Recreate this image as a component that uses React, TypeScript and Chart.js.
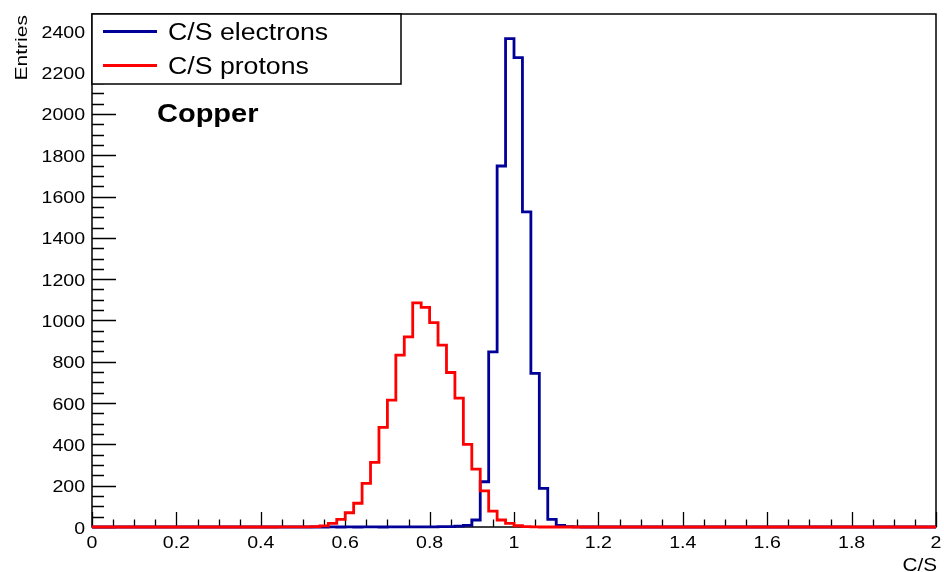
import React, { useEffect, useRef } from 'react';
import { Chart, registerables } from 'chart.js';

Chart.register(...registerables);

// ---- Data -------------------------------------------------------------
const X_MIN = 0;
const X_MAX = 2;
const BIN_WIDTH = 0.02; // 100 bins between 0 and 2

// entries per bin (bin i covers [i*0.02, (i+1)*0.02))
const electrons = [
  0, 0, 0, 0, 0, 0, 0, 0, 0, 0, // 0.00 - 0.18
  0, 0, 0, 0, 0, 0, 0, 0, 0, 0, // 0.20 - 0.38
  0, 0, 0, 0, 0, 0, 0, 0, 1, 0, // 0.40 - 0.58
  1, 0, 1, 1, 0, 1, 1, 1, 1, 1, // 0.60 - 0.78
  1, 2, 2, 4, 8, 34, 219, 848, 1748, 2365, // 0.80 - 0.98
  2273, 1526, 744, 187, 37, 8, 2, 1, 0, 0, // 1.00 - 1.18
  0, 0, 0, 0, 0, 0, 0, 0, 0, 0, // 1.20 - 1.38
  0, 0, 0, 0, 0, 0, 0, 0, 0, 0, // 1.40 - 1.58
  0, 0, 0, 0, 0, 0, 0, 0, 0, 0, // 1.60 - 1.78
  0, 0, 0, 0, 0, 0, 0, 0, 0, 0, // 1.80 - 1.98
];

const protons = [
  0, 0, 0, 0, 0, 0, 0, 0, 0, 0, // 0.00 - 0.18
  0, 0, 0, 0, 0, 0, 0, 0, 0, 0, // 0.20 - 0.38
  0, 0, 1, 1, 1, 1, 2, 5, 18, 37, // 0.40 - 0.58
  69, 115, 211, 313, 482, 614, 832, 921, 1085, 1063, // 0.60 - 0.78
  990, 881, 748, 624, 400, 280, 175, 77, 34, 18, // 0.80 - 0.98
  6, 2, 1, 0, 0, 0, 0, 0, 0, 0, // 1.00 - 1.18
  0, 0, 0, 0, 0, 0, 0, 0, 0, 0, // 1.20 - 1.38
  0, 0, 0, 0, 0, 0, 0, 0, 0, 0, // 1.40 - 1.58
  0, 0, 0, 0, 0, 0, 0, 0, 0, 0, // 1.60 - 1.78
  0, 0, 0, 0, 0, 0, 0, 0, 0, 0, // 1.80 - 1.98
];

const SERIES_LABELS = ['C/S electrons', 'C/S protons'];
const SERIES_COLORS = ['#000099', '#ff0000'];
const ANNOTATION = 'Copper';
const X_TITLE = 'C/S';
const Y_TITLE = 'Entries';

const Y_MAX = 2484;
const X_TICKS = [0, 0.2, 0.4, 0.6, 0.8, 1, 1.2, 1.4, 1.6, 1.8, 2];
const X_TICK_LABELS = ['0', '0.2', '0.4', '0.6', '0.8', '1', '1.2', '1.4', '1.6', '1.8', '2'];
const X_MINOR_STEP = 0.05;
const Y_TICKS = [0, 200, 400, 600, 800, 1000, 1200, 1400, 1600, 1800, 2000, 2200, 2400];
const Y_TICK_LABELS = ['0', '200', '400', '600', '800', '1000', '1200', '1400', '1600', '1800', '2000', '2200', '2400'];
const Y_MINOR_STEP = 50;

// ---- Helpers ----------------------------------------------------------
const FONT = '"Liberation Sans", Arial, Helvetica, sans-serif';
const SX = 1.15;

function toSteps(counts: number[]) {
  const pts = counts.map((v, i) => ({ x: X_MIN + i * BIN_WIDTH, y: v }));
  pts.push({ x: X_MIN + counts.length * BIN_WIDTH, y: counts[counts.length - 1] });
  return pts;
}

function drawText(
  ctx: CanvasRenderingContext2D,
  text: string,
  x: number,
  y: number,
  font: string,
  align: 'left' | 'right' | 'center',
  sx: number,
  rotate = 0
) {
  ctx.save();
  ctx.font = font;
  ctx.fillStyle = '#000';
  ctx.textBaseline = 'alphabetic';
  ctx.textAlign = 'left';
  const w = ctx.measureText(text).width * sx;
  ctx.translate(x, y);
  if (rotate) ctx.rotate(rotate);
  let start = 0;
  if (align === 'right') start = -w;
  else if (align === 'center') start = -w / 2;
  ctx.translate(start, 0);
  ctx.scale(sx, 1);
  ctx.fillText(text, 0, 0);
  ctx.restore();
}

const rootStyle = {
  id: 'rootStyle',
  beforeDatasetsDraw(chart: any) {
    const { ctx, chartArea: a, scales } = chart;
    const xs = scales.x;
    const ys = scales.y;
    ctx.save();
    // frame
    ctx.strokeStyle = '#000';
    ctx.lineWidth = 1.5;
    ctx.strokeRect(a.left, a.top, a.right - a.left, a.bottom - a.top);
    // ticks
    ctx.lineWidth = 1.3;
    ctx.beginPath();
    for (let k = 0; k * Y_MINOR_STEP <= Y_MAX; k++) {
      const v = k * Y_MINOR_STEP;
      const major = Y_TICKS.indexOf(v) >= 0;
      const py = Math.round(ys.getPixelForValue(v)) + 0.5;
      ctx.moveTo(a.left, py);
      ctx.lineTo(a.left + (major ? 24 : 12), py);
    }
    for (let k = 0; k * X_MINOR_STEP <= X_MAX + 1e-9; k++) {
      const v = k * X_MINOR_STEP;
      const major = X_TICKS.some((t) => Math.abs(t - v) < 1e-9);
      const px = Math.round(xs.getPixelForValue(v)) + 0.5;
      ctx.moveTo(px, a.bottom);
      ctx.lineTo(px, a.bottom - (major ? 15 : 7.5));
    }
    ctx.stroke();
    ctx.restore();

    // tick labels
    const tickFont = `17px ${FONT}`;
    Y_TICKS.forEach((v, i) => {
      drawText(ctx, Y_TICK_LABELS[i], a.left - 7, ys.getPixelForValue(v) + 6.5, tickFont, 'right', SX);
    });
    X_TICKS.forEach((v, i) => {
      drawText(ctx, X_TICK_LABELS[i], xs.getPixelForValue(v), a.bottom + 21, tickFont, 'center', SX);
    });
    // axis titles
    drawText(ctx, X_TITLE, a.right + 1, a.bottom + 43.5, `18px ${FONT}`, 'right', SX);
    drawText(ctx, Y_TITLE, 27, a.top + 1, `17px ${FONT}`, 'right', 1.24, -Math.PI / 2);
  },
  afterDraw(chart: any) {
    const { ctx, chartArea: a } = chart;
    const datasets = chart.data.datasets;
    // legend box
    ctx.save();
    const bx = a.left;
    const by = a.top;
    const bw = 401 - a.left;
    const bh = 84 - a.top;
    ctx.fillStyle = '#fff';
    ctx.fillRect(bx, by, bw, bh);
    ctx.strokeStyle = '#000';
    ctx.lineWidth = 1.5;
    ctx.strokeRect(bx, by, bw, bh);
    const rows = [31.5, 65.5];
    datasets.forEach((ds: any, i: number) => {
      ctx.strokeStyle = ds.borderColor;
      ctx.lineWidth = 3;
      ctx.beginPath();
      ctx.moveTo(103, rows[i]);
      ctx.lineTo(157, rows[i]);
      ctx.stroke();
      drawText(ctx, ds.label, 168, rows[i] + 8, `23px ${FONT}`, 'left', 1.16);
    });
    ctx.restore();
    // annotation
    drawText(ctx, ANNOTATION, 157, 121.5, `bold 25px ${FONT}`, 'left', 1.16);
  },
};

export default function App() {
  const canvasRef = useRef<HTMLCanvasElement | null>(null);

  useEffect(() => {
    const canvas = canvasRef.current;
    if (!canvas) return;
    const chart = new Chart(canvas, {
      type: 'line',
      data: {
        datasets: [
          {
            label: SERIES_LABELS[0],
            data: toSteps(electrons),
            borderColor: SERIES_COLORS[0],
            borderWidth: 2.8,
            stepped: 'before',
            pointRadius: 0,
            fill: false,
            order: 1,
            clip: false,
            borderJoinStyle: 'miter',
          } as any,
          {
            label: SERIES_LABELS[1],
            data: toSteps(protons),
            borderColor: SERIES_COLORS[1],
            borderWidth: 2.8,
            stepped: 'before',
            pointRadius: 0,
            fill: false,
            order: 0,
            clip: false,
            borderJoinStyle: 'miter',
          } as any,
        ],
      },
      options: {
        animation: false,
        responsive: false,
        devicePixelRatio: 1,
        events: [],
        layout: { padding: { top: 14, right: 8, left: 0, bottom: 0 } },
        plugins: {
          legend: { display: false },
          tooltip: { enabled: false },
          title: { display: false },
        },
        scales: {
          x: {
            type: 'linear',
            min: X_MIN,
            max: X_MAX,
            ticks: { display: false },
            grid: { display: false },
            border: { display: false },
            afterFit: (s: any) => {
              s.height = 45;
            },
          },
          y: {
            type: 'linear',
            min: 0,
            max: Y_MAX,
            ticks: { display: false },
            grid: { display: false },
            border: { display: false },
            afterFit: (s: any) => {
              s.width = 92;
            },
          },
        },
      } as any,
      plugins: [rootStyle],
    });
    return () => chart.destroy();
  }, []);

  return (
    <div style={{ position: 'absolute', left: 0, top: 0, width: 944, height: 572, background: '#fff' }}>
      <canvas ref={canvasRef} width={944} height={572} style={{ display: 'block' }} />
    </div>
  );
}
